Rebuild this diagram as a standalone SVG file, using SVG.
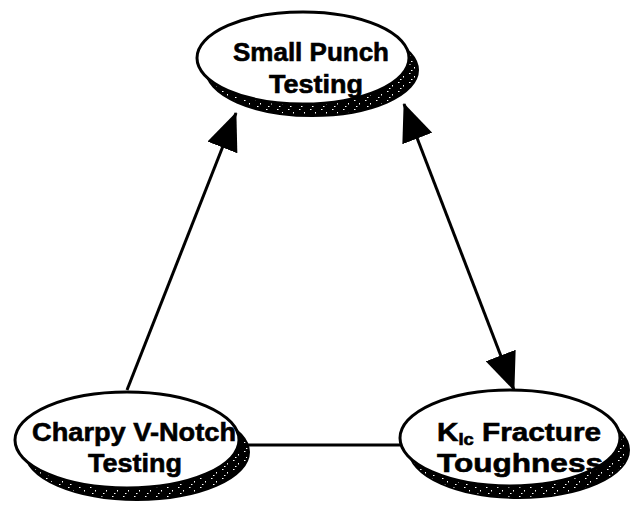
<svg xmlns="http://www.w3.org/2000/svg" width="631" height="509" viewBox="0 0 631 509">
<defs>
<pattern id="speck" width="11" height="9" patternUnits="userSpaceOnUse">
<rect width="11" height="9" fill="#000"/>
<rect x="2" y="1" width="1.5" height="1" fill="#fff"/>
<rect x="7" y="4" width="1" height="1.5" fill="#fff"/>
<rect x="4" y="7" width="1.5" height="1" fill="#fff"/>
</pattern>
<marker id="arrow" markerUnits="userSpaceOnUse" viewBox="0 0 38 32" refX="37" refY="16" markerWidth="38" markerHeight="32" orient="auto-start-reverse">
<path d="M0,0 L38,16 L0,32 z" fill="#000"/>
</marker>
<style>
.conn{stroke:#000;stroke-width:3;fill:none}
.shadow{fill:url(#speck);stroke:#000;stroke-width:2}
.body{fill:#fff;stroke:#000;stroke-width:3}
.lbl{font-family:"Liberation Sans",Arial,sans-serif;font-weight:bold;font-size:26px;fill:#000;stroke:#000;stroke-width:0.6;text-anchor:middle}
.st{text-anchor:start}
</style>
</defs>
<g id="connectors">
<line class="conn" x1="127" y1="390" x2="236" y2="113" marker-end="url(#arrow)"/>
<line class="conn" x1="404" y1="104" x2="514" y2="390" marker-start="url(#arrow)" marker-end="url(#arrow)"/>
<line class="conn" x1="240" y1="445" x2="404" y2="445"/>
</g>
<g id="node-small-punch">
<ellipse class="shadow" cx="312" cy="70" rx="106" ry="46"/>
<ellipse class="body" cx="303" cy="58" rx="106" ry="46"/>
<text class="lbl" x="311" y="61" textLength="156" lengthAdjust="spacingAndGlyphs">Small Punch</text>
<text class="lbl" x="316" y="93" textLength="94" lengthAdjust="spacingAndGlyphs">Testing</text>
</g>
<g id="node-charpy">
<ellipse class="shadow" cx="137" cy="452" rx="112" ry="48"/>
<ellipse class="body" cx="127" cy="440" rx="112" ry="48"/>
<text class="lbl" x="134" y="441" textLength="204" lengthAdjust="spacingAndGlyphs">Charpy V-Notch</text>
<text class="lbl" x="135" y="472" textLength="94" lengthAdjust="spacingAndGlyphs">Testing</text>
</g>
<g id="node-kic">
<ellipse class="shadow" cx="519" cy="450" rx="110" ry="48"/>
<ellipse class="body" cx="510" cy="438" rx="110" ry="48"/>
<text class="lbl st" x="437" y="441" textLength="164" lengthAdjust="spacingAndGlyphs">K<tspan font-size="16" dy="4">Ic</tspan><tspan dy="-4"> Fracture</tspan></text>
<text class="lbl st" x="437" y="472" textLength="166" lengthAdjust="spacingAndGlyphs">Toughness</text>
</g>
</svg>
